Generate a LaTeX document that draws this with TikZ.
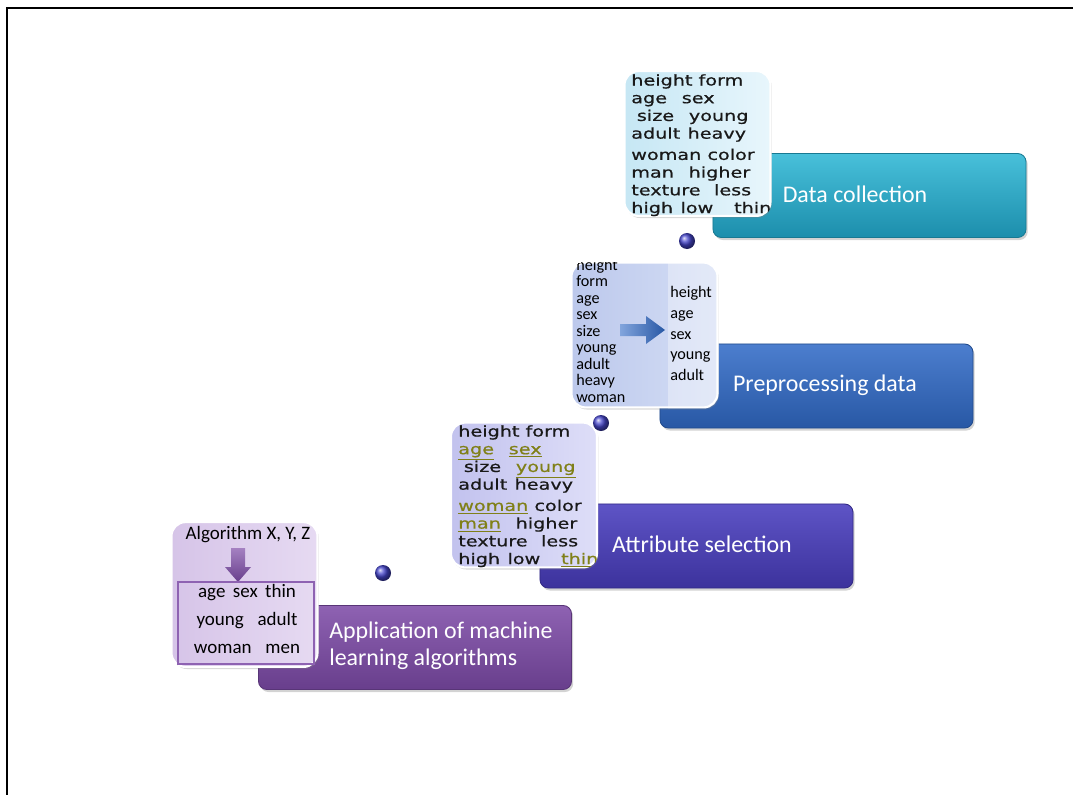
\documentclass[tikz,border=0pt]{standalone}
\usepackage{fontspec}
\setmainfont{Carlito}
\newfontfamily\wordfont[FakeStretch=1.3,FakeBold=0.6]{DejaVu Sans}
\usetikzlibrary{shadows,positioning}
\definecolor{dctop}{RGB}{72,192,218}
\definecolor{dcbot}{RGB}{28,142,172}
\definecolor{pptop}{RGB}{76,126,206}
\definecolor{ppbot}{RGB}{40,88,165}
\definecolor{astop}{RGB}{94,84,198}
\definecolor{asbot}{RGB}{60,50,156}
\definecolor{aptop}{RGB}{142,98,178}
\definecolor{apbot}{RGB}{104,62,140}
\definecolor{dcleft}{RGB}{198,231,244}
\definecolor{dcright}{RGB}{232,246,252}
\definecolor{ppleft}{RGB}{188,200,236}
\definecolor{ppright}{RGB}{212,222,245}
\definecolor{asleft}{RGB}{194,194,238}
\definecolor{asright}{RGB}{222,222,248}
\definecolor{apleft}{RGB}{214,196,232}
\definecolor{apright}{RGB}{230,218,242}
\definecolor{seltext}{RGB}{128,128,24}
\definecolor{ballblue}{RGB}{70,70,205}
\newcommand{\sel}[1]{\textcolor{seltext}{\underline{#1}}}
\tikzset{bar/.style 2 args={rectangle,rounded corners=6pt,minimum width=7.825cm,minimum height=2.1cm,top color=#1,bottom color=#2,draw=#2!85!black,line width=.6pt,drop shadow={shadow xshift=1.2pt,shadow yshift=-1.8pt,opacity=.35}},
  wordbox/.style 2 args={rectangle,rounded corners=10pt,minimum width=3.65cm,minimum height=3.62cm,left color=#1,right color=#2,draw=white,line width=1.5pt,drop shadow={shadow xshift=1pt,shadow yshift=-1.5pt,opacity=.3}},
  bartext/.style={text=white,font=\fontsize{17}{19.2}\selectfont,inner sep=0pt},
  words/.style={font=\wordfont\fontsize{10.5}{12.6}\selectfont,align=left,anchor=north west,inner sep=0pt,text=black!90},
  ball/.style={circle,minimum size=0.4cm,inner sep=0pt,ball color=ballblue}}

\begin{document}
\begin{tikzpicture}[x=0.025cm,y=-0.025cm]
    \useasboundingbox (0,0) rectangle (1073,795);
    \draw[line width=2pt] (7,795) -- (7,8) -- (1073,8);

    \node[bar={dctop}{dcbot}] (collect) at (869.5,195.5) {};
    \node[bar={pptop}{ppbot}] (prep) at (816.5,386) {};
    \node[bar={astop}{asbot}] (select) at (696.5,546) {};
    \node[bar={aptop}{apbot}] (apply) at (415,647.5) {};

    \node[bartext] (t1) at (855,194) {Data collection};
    \node[bartext] (t2) at (825,385) {Preprocessing data};
    \node[bartext] (t3) at (702,544) {Attribute selection};
    \node[bartext,align=left,anchor=west] (t4) at (329,646) {Application of machine\\learning algorithms};

    \node[wordbox={dcleft}{dcright}] (box1) at (697.5,143.5) {};
    \node[wordbox={ppleft}{ppright}] (box2) at (644.5,335) {};
    \node[wordbox={asleft}{asright}] (box3) at (524,495) {};
    \node[wordbox={apleft}{apright}] (box4) at (244.5,594.5) {};

    \begin{scope}
    \clip[rounded corners=10pt] (box1.south west) rectangle (box1.north east);
    \node[words] (w1) at (631,74) {height form\\age\quad sex\\\hspace{4pt}size\quad young\\adult\enspace heavy\\[2.5pt]woman color\\man\quad higher\\texture\enspace\ less\\high\enspace low\quad\ thin};
    \end{scope}

    \begin{scope}
    \clip[rounded corners=10pt] (box2.south west) rectangle (box2.north east);
    \fill[white,opacity=.35] (668,255) rectangle (725,415);
    \node[font=\fontsize{11.5}{11.7}\selectfont,align=left,anchor=north west,inner sep=0pt] (w2a) at (576,259) {height\\form\\age\\sex\\size\\young\\adult\\heavy\\woman};
    \node[font=\fontsize{11.5}{14.8}\selectfont,align=left,anchor=north west,inner sep=0pt] (w2b) at (670,286) {height\\age\\sex\\young\\adult};
    \shade[left color=pptop!70!white,right color=ppbot] (620,324) -- (646,324) -- (646,316) -- (665,330) -- (646,344) -- (646,336) -- (620,336) -- cycle;
    \end{scope}

    \begin{scope}
    \clip[rounded corners=10pt] (box3.south west) rectangle (box3.north east);
    \node[words] (w3) at (458,425) {height form\\\sel{age}\quad \sel{sex}\\\hspace{4pt}size\quad \sel{young}\\adult\enspace heavy\\[2.5pt]\sel{woman} color\\\sel{man}\quad higher\\texture\enspace\ less\\high\enspace low\quad\ \sel{thin}};
    \end{scope}

    \node[font=\fontsize{13.5}{15}\selectfont] (alg) at (248,535) {Algorithm X, Y, Z};
    \shade[top color=aptop!80!white,bottom color=apbot] (231,548) -- (245,548) -- (245,567) -- (251,567) -- (238,582) -- (225,567) -- (231,567) -- cycle;
    \draw[aptop,line width=.8pt] (178,582) rectangle (314,664);
    \node[font=\fontsize{13.5}{19.9}\selectfont,align=center] (chosen) at (247,619) {age\ \,sex\ \,thin\\young\enspace\ adult\\woman\enspace\ men};

    \node[ball] (b1) at (687,241) {};
    \node[ball] (b2) at (601,423) {};
    \node[ball] (b3) at (383,573) {};
\end{tikzpicture}
\end{document}
